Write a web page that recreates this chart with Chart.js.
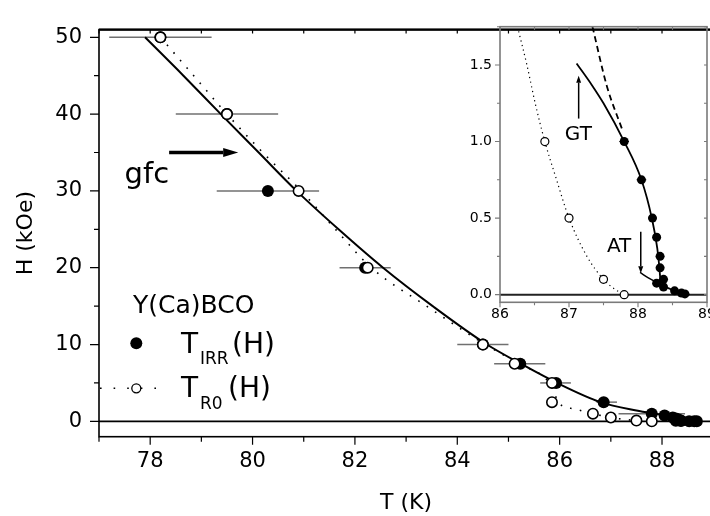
<!DOCTYPE html>
<html><head><meta charset="utf-8">
<script src="https://cdn.jsdelivr.net/npm/chart.js@4.4.1/dist/chart.umd.min.js"></script>
<style>
html,body{margin:0;padding:0;background:#fff;overflow:hidden;width:710px;height:516px;}
#wrap{position:relative;width:720px;height:516px;}
#main{position:absolute;left:0;top:0;}
#inset{position:absolute;left:440px;top:0;}
</style></head><body>
<div id="wrap"><canvas id="main" width="720" height="516"></canvas><canvas id="inset" width="280" height="340"></canvas></div>
<script>
// ---------- tick labels ----------
const mainXTicks = [78, 80, 82, 84, 86, 88];
const mainYTicks = [0, 10, 20, 30, 40, 50];
const insetXTicks = [86, 87, 88, 89];
const insetYTicks = [0, 0.5, 1.0, 1.5];

// ---------- main panel data ----------
// T_IRR(H) filled circles
const irrT = [78.2, 79.5, 80.3, 82.2, 84.5, 85.23, 85.93, 86.86, 87.8, 88.05, 88.21, 88.27, 88.32, 88.32, 88.37, 88.27, 88.37, 88.53, 88.63, 88.68];
const irrH = [50, 40, 30, 20, 10, 7.5, 5, 2.5, 1.0, 0.75, 0.5, 0.375, 0.25, 0.175, 0.1, 0.075, 0.05, 0.025, 0.01, 0.005];
// T_R0(H) open circles
const r0T = [78.2, 79.5, 80.9, 82.25, 84.5, 85.12, 85.85, 85.85, 86.65, 87.0, 87.5, 87.8];
const r0H = [50, 40, 30, 20, 10, 7.5, 5, 2.5, 1.0, 0.5, 0.1, 0];
// horizontal error bars (T_IRR)
const errT = [78.2, 79.5, 80.3, 82.2, 84.5, 85.22, 85.92, 86.92, 87.8];
const errH = [50, 40, 30, 20, 10, 7.5, 5, 2.5, 1.0];
const errHalf = [1.0, 1.0, 1.0, 0.5, 0.5, 0.5, 0.3, 0.2, 0.65];
// solid fit curve
const fitT = [77.9, 78.65, 79.38, 80.12, 80.86, 81.68, 82.55, 83.52, 84.58, 85.24, 85.95, 86.8, 87.5, 87.85, 88.1, 88.25, 88.35, 88.7];
const fitH = [50, 45, 40, 35, 30, 25, 20, 15, 10, 7.5, 5, 2.5, 1.4, 1.0, 0.75, 0.5, 0.2, 0];
// dotted curve through T_R0
const r0LineT = [78.2, 78.85, 79.5, 80.2, 80.95, 81.62, 82.32, 83.4, 84.55, 85.2, 85.8, 86.0, 86.3, 86.65, 87.0, 87.5, 87.8];
const r0LineH = [50, 45, 40, 35, 30, 25, 20, 15, 10, 7.5, 5, 2.3, 1.6, 1.0, 0.5, 0.1, 0];

// ---------- inset data ----------
const inIrrT = [87.8, 88.05, 88.21, 88.27, 88.32, 88.32, 88.37, 88.27, 88.37, 88.53, 88.63, 88.68];
const inIrrH = [1.0, 0.75, 0.5, 0.375, 0.25, 0.175, 0.1, 0.075, 0.05, 0.025, 0.01, 0.005];
const inErrHalf = [0.07, 0.07, 0.06, 0.06, 0.06, 0.06, 0.06, 0.05, 0.05, 0.05, 0.05, 0.05];
const inR0T = [86.65, 87.0, 87.5, 87.8];
const inR0H = [1.0, 0.5, 0.1, 0.0];
const inR0LineT = [86.27, 86.39, 86.51, 86.65, 86.82, 87.0, 87.26, 87.5, 87.65, 87.8];
const inR0LineH = [1.72, 1.5, 1.25, 1.0, 0.75, 0.5, 0.25, 0.1, 0.04, 0];
const gtT = [87.11, 87.33, 87.5, 87.8, 88.05, 88.2, 88.28, 88.32, 88.33];
const gtH = [1.51, 1.37, 1.25, 1.0, 0.75, 0.5, 0.3, 0.12, 0.05];
const gtDashT = [87.34, 87.55, 87.77];
const gtDashH = [1.75, 1.36, 1.08];
const atT = [88.03, 88.15, 88.32, 88.5, 88.75];
const atH = [0.145, 0.11, 0.07, 0.03, 0.0];

const FONT = "'DejaVu Sans', sans-serif";
const pts = (xs, ys) => xs.map((x, i) => ({x: x, y: ys[i]}));

function arrow(ctx, x1, y1, x2, y2, lw, hl, hw) {
  const a = Math.atan2(y2 - y1, x2 - x1);
  const bx = x2 - hl * Math.cos(a), by = y2 - hl * Math.sin(a);
  ctx.save();
  ctx.strokeStyle = '#000'; ctx.fillStyle = '#000'; ctx.lineWidth = lw;
  ctx.beginPath(); ctx.moveTo(x1, y1); ctx.lineTo(bx, by); ctx.stroke();
  ctx.beginPath();
  ctx.moveTo(x2, y2);
  ctx.lineTo(bx + hw * Math.sin(a), by - hw * Math.cos(a));
  ctx.lineTo(bx - hw * Math.sin(a), by + hw * Math.cos(a));
  ctx.closePath(); ctx.fill();
  ctx.restore();
}

const mainDecor = {
  id: 'mainDecor',
  beforeDatasetsDraw(chart) {
    const ctx = chart.ctx, xs = chart.scales.x, ys = chart.scales.y, ca = chart.chartArea;
    ctx.save();
    ctx.strokeStyle = '#000'; ctx.lineWidth = 1.6;
    ctx.beginPath(); const y0 = ys.getPixelForValue(0);
    ctx.moveTo(ca.left, y0); ctx.lineTo(ca.right, y0); ctx.stroke();
    ctx.strokeStyle = '#707070'; ctx.lineWidth = 1.5;
    errT.forEach((t, i) => {
      const py = ys.getPixelForValue(errH[i]);
      ctx.beginPath();
      ctx.moveTo(xs.getPixelForValue(t - errHalf[i]), py);
      ctx.lineTo(xs.getPixelForValue(t + errHalf[i]), py);
      ctx.stroke();
    });
    ctx.restore();
  },
  afterDraw(chart) {
    const ctx = chart.ctx, xs = chart.scales.x, ys = chart.scales.y, ca = chart.chartArea;
    ctx.save();
    ctx.strokeStyle = '#000'; ctx.lineWidth = 1.6;
    ctx.strokeRect(ca.left, ca.top, ca.right - ca.left, ca.bottom - ca.top);
    ctx.beginPath(); ctx.lineWidth = 2.2;
    ctx.moveTo(ca.left, ca.top); ctx.lineTo(ca.right, ca.top); ctx.stroke();
    ctx.lineWidth = 1.2;
    ctx.beginPath();
    for (let v = 77; v <= 89; v++) {
      const px = xs.getPixelForValue(v);
      const len = (v % 2 === 0) ? 8 : 5;
      ctx.moveTo(px, ca.bottom); ctx.lineTo(px, ca.bottom + len);
      ctx.moveTo(px, ca.top); ctx.lineTo(px, ca.top + 4);
    }
    for (let v = 0; v <= 50; v += 5) {
      const py = ys.getPixelForValue(v);
      const len = (v % 10 === 0) ? 9 : 5;
      ctx.moveTo(ca.left, py); ctx.lineTo(ca.left - len, py);
    }
    ctx.stroke();
    ctx.fillStyle = '#000';
    ctx.font = '29px ' + FONT;
    ctx.textBaseline = 'alphabetic'; ctx.textAlign = 'left';
    ctx.fillText('gfc', xs.getPixelForValue(77.5), ys.getPixelForValue(31.06));
    arrow(ctx, xs.getPixelForValue(78.37), ys.getPixelForValue(35), xs.getPixelForValue(79.72), ys.getPixelForValue(35), 3.5, 15, 4.5);
    // legend
    ctx.font = '25px ' + FONT;
    ctx.fillText('Y(Ca)BCO', 133, 312.5);
    ctx.beginPath(); ctx.arc(136.3, 343.3, 6, 0, Math.PI * 2); ctx.fill();
    ctx.font = '28px ' + FONT; ctx.fillText('T', 181, 352.7);
    ctx.font = '17px ' + FONT; ctx.fillText('IRR', 200, 363.5);
    ctx.font = '28px ' + FONT; ctx.fillText('(H)', 232, 352.7);
    ctx.save();
    ctx.setLineDash([1.6, 12]); ctx.lineWidth = 1.6; ctx.strokeStyle = '#000';
    ctx.beginPath(); ctx.moveTo(100, 388.3); ctx.lineTo(166, 388.3); ctx.stroke();
    ctx.restore();
    ctx.beginPath(); ctx.arc(136.3, 388.3, 4.5, 0, Math.PI * 2);
    ctx.fillStyle = '#fff'; ctx.fill(); ctx.lineWidth = 1.3; ctx.strokeStyle = '#000'; ctx.stroke();
    ctx.fillStyle = '#000';
    ctx.font = '28px ' + FONT; ctx.fillText('T', 181, 397.3);
    ctx.font = '17px ' + FONT; ctx.fillText('R0', 200, 408.5);
    ctx.font = '28px ' + FONT; ctx.fillText('(H)', 228, 397.3);
    ctx.restore();
  }
};

new Chart(document.getElementById('main'), {
  type: 'scatter',
  data: { datasets: [
    { label: 'T_R0(H)', data: pts(r0T, r0H), showLine: false, pointRadius: 5.2, pointHoverRadius: 5.2,
      pointBackgroundColor: '#fff', pointBorderColor: '#000', pointBorderWidth: 1.6, order: 0 },
    { label: 'T_IRR(H)', data: pts(irrT, irrH), showLine: false, pointRadius: 6, pointHoverRadius: 6,
      pointBackgroundColor: '#000', pointBorderColor: '#000', pointBorderWidth: 0, order: 1 },
    { label: 'fit', data: pts(fitT, fitH), showLine: true, pointRadius: 0, borderColor: '#000',
      borderWidth: 2, cubicInterpolationMode: 'monotone', order: 2 },
    { label: 'R0 line', data: pts(r0LineT, r0LineH), showLine: true, pointRadius: 0, borderColor: '#000',
      borderWidth: 1.6, borderDash: [1.6, 8.4], cubicInterpolationMode: 'monotone', order: 3 }
  ]},
  options: {
    responsive: false, animation: false, devicePixelRatio: 1,
    layout: { padding: { top: 17, right: 3, left: 0, bottom: 0 } },
    plugins: { legend: { display: false }, tooltip: { enabled: false } },
    scales: {
      x: { type: 'linear', min: 77, max: 89,
        afterFit(s) { s.height = 79.3; },
        afterBuildTicks(s) { s.ticks = mainXTicks.map(v => ({ value: v })); },
        grid: { display: false, drawTicks: false }, border: { display: false },
        ticks: { font: { family: FONT, size: 21 }, color: '#000', padding: 12, maxRotation: 0, autoSkip: false },
        title: { display: true, text: 'T (K)', font: { family: FONT, size: 22 }, color: '#000', padding: 0 } },
      y: { type: 'linear', min: -2, max: 51,
        afterFit(s) { s.width = 99; },
        afterBuildTicks(s) { s.ticks = mainYTicks.map(v => ({ value: v })); },
        grid: { display: false, drawTicks: false }, border: { display: false },
        ticks: { font: { family: FONT, size: 21 }, color: '#000', padding: 17, autoSkip: false },
        title: { display: true, text: 'H (kOe)', font: { family: FONT, size: 22 }, color: '#000', padding: 13 } }
    }
  },
  plugins: [mainDecor]
});

const insetDecor = {
  id: 'insetDecor',
  beforeDatasetsDraw(chart) {
    const ctx = chart.ctx, xs = chart.scales.x, ys = chart.scales.y, ca = chart.chartArea;
    ctx.save();
    ctx.strokeStyle = '#222'; ctx.lineWidth = 2;
    const y0 = ys.getPixelForValue(0);
    ctx.beginPath(); ctx.moveTo(ca.left, y0); ctx.lineTo(ca.right, y0); ctx.stroke();
    ctx.strokeStyle = '#000'; ctx.lineWidth = 1;
    inIrrT.forEach((t, i) => {
      const py = ys.getPixelForValue(inIrrH[i]);
      ctx.beginPath();
      ctx.moveTo(xs.getPixelForValue(t - inErrHalf[i]), py);
      ctx.lineTo(xs.getPixelForValue(t + inErrHalf[i]), py);
      ctx.stroke();
    });
    ctx.restore();
  },
  afterDraw(chart) {
    const ctx = chart.ctx, xs = chart.scales.x, ys = chart.scales.y, ca = chart.chartArea;
    ctx.save();
    ctx.strokeStyle = '#7a7a7a'; ctx.lineWidth = 1.6;
    ctx.strokeRect(ca.left, ca.top, ca.right - ca.left, ca.bottom - ca.top);
    ctx.lineWidth = 1.1;
    ctx.beginPath();
    for (let k = 0; k <= 6; k++) {
      const v = 86 + k * 0.5;
      const px = xs.getPixelForValue(v);
      const len = (k % 2 === 0) ? 5 : 3;
      ctx.moveTo(px, ca.bottom); ctx.lineTo(px, ca.bottom + len);
      ctx.moveTo(px, ca.top); ctx.lineTo(px, ca.top + 3);
    }
    for (let k = 0; k <= 7; k++) {
      const v = k * 0.25;
      const py = ys.getPixelForValue(v);
      const len = (k % 2 === 0) ? 5 : 3;
      ctx.moveTo(ca.left, py); ctx.lineTo(ca.left - len, py);
      ctx.moveTo(ca.right, py); ctx.lineTo(ca.right - 3, py);
    }
    ctx.stroke();
    ctx.fillStyle = '#000';
    ctx.font = '20px ' + FONT; ctx.textAlign = 'left'; ctx.textBaseline = 'alphabetic';
    ctx.fillText('GT', xs.getPixelForValue(86.94), ys.getPixelForValue(1.007));
    ctx.fillText('AT', xs.getPixelForValue(87.55), ys.getPixelForValue(0.279));
    arrow(ctx, xs.getPixelForValue(87.14), ys.getPixelForValue(1.15), xs.getPixelForValue(87.14), ys.getPixelForValue(1.43), 1.5, 7, 2.5);
    arrow(ctx, xs.getPixelForValue(88.04), ys.getPixelForValue(0.41), xs.getPixelForValue(88.04), ys.getPixelForValue(0.14), 1.5, 7, 2.5);
    ctx.restore();
  }
};

new Chart(document.getElementById('inset'), {
  type: 'scatter',
  data: { datasets: [
    { label: 'R0', data: pts(inR0T, inR0H), showLine: false, pointRadius: 4, pointHoverRadius: 4,
      pointBackgroundColor: '#fff', pointBorderColor: '#000', pointBorderWidth: 1.2, order: 0 },
    { label: 'IRR', data: pts(inIrrT, inIrrH), showLine: false, pointRadius: 4.5, pointHoverRadius: 4.5,
      pointBackgroundColor: '#000', pointBorderColor: '#000', pointBorderWidth: 0, order: 1 },
    { label: 'GT', data: pts(gtT, gtH), showLine: true, pointRadius: 0, borderColor: '#000', borderWidth: 1.8,
      cubicInterpolationMode: 'monotone', order: 2 },
    { label: 'GT dash', data: pts(gtDashT, gtDashH), showLine: true, pointRadius: 0, borderColor: '#000', borderWidth: 1.8,
      borderDash: [6, 4], cubicInterpolationMode: 'monotone', order: 3 },
    { label: 'AT', data: pts(atT, atH), showLine: true, pointRadius: 0, borderColor: '#000', borderWidth: 1.5,
      cubicInterpolationMode: 'monotone', order: 4 },
    { label: 'R0 line', data: pts(inR0LineT, inR0LineH), showLine: true, pointRadius: 0, borderColor: '#000', borderWidth: 1.2,
      borderDash: [1.2, 3.5], cubicInterpolationMode: 'monotone', order: 5 }
  ]},
  options: {
    responsive: false, animation: false, devicePixelRatio: 1,
    layout: { padding: { top: 26.7, right: 13, left: 0, bottom: 0 } },
    plugins: { legend: { display: false }, tooltip: { enabled: false } },
    scales: {
      x: { type: 'linear', min: 86, max: 89,
        afterFit(s) { s.height = 37.7; },
        afterBuildTicks(s) { s.ticks = insetXTicks.map(v => ({ value: v })); },
        grid: { display: false, drawTicks: false }, border: { display: false },
        ticks: { font: { family: FONT, size: 14 }, color: '#000', padding: 4, maxRotation: 0, autoSkip: false } },
      y: { type: 'linear', min: -0.05, max: 1.75,
        afterFit(s) { s.width = 60; },
        afterBuildTicks(s) { s.ticks = insetYTicks.map(v => ({ value: v })); },
        grid: { display: false, drawTicks: false }, border: { display: false },
        ticks: { font: { family: FONT, size: 14 }, color: '#000', padding: 8, autoSkip: false,
          callback: v => v.toFixed(1) } }
    }
  },
  plugins: [insetDecor]
});
</script>
</body></html>
